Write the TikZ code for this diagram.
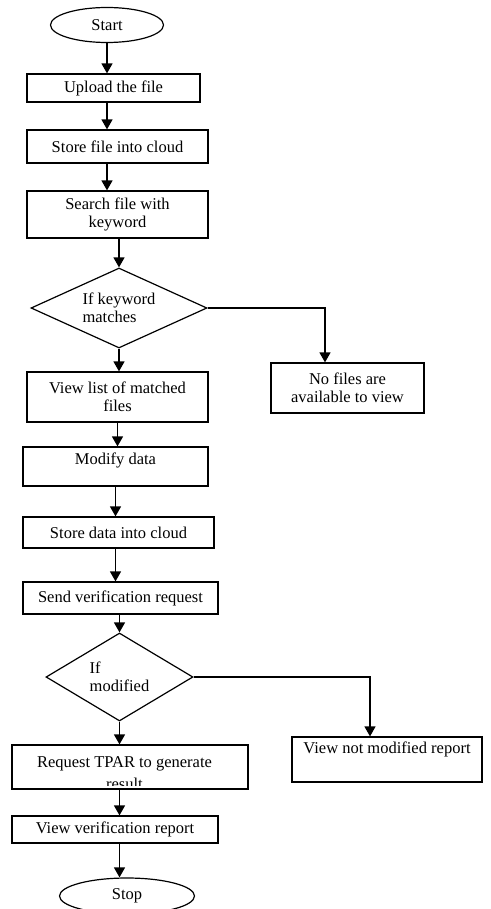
\documentclass[tikz,border=0pt]{standalone}
\usepackage{fontspec}
\setmainfont{Liberation Serif}
\usetikzlibrary{shapes.geometric,arrows.meta,calc}
\begin{document}
\begin{tikzpicture}[x=1pt,y=-1pt,
  every node/.style={font=\fontsize{16.5}{18.5}\selectfont, inner sep=0pt},
  box/.style={draw=black, line width=1.2pt, rectangle, align=center},
  term/.style={draw=black, line width=1.2pt, ellipse},
  decision/.style={draw=black, line width=1.2pt, diamond, align=left},
  arr/.style={line width=1.4pt, -{Triangle[length=10pt,width=11pt]}}]
\fill[white] (0,0) rectangle (490,909);
\useasboundingbox (0,0) rectangle (490,909);
% nodes
\node[term, minimum width=113, minimum height=35] (start) at (107,25) {Start};
\node[box, minimum width=173, minimum height=28] (upload) at (113.5,88) {Upload the file};
\node[box, minimum width=181, minimum height=33] (storefile) at (117.5,146.5) {Store file into cloud};
\node[box, minimum width=181, minimum height=47] (search) at (117.5,214.5) {Search file with\\keyword};
\node[decision, aspect=2.2, minimum width=176, minimum height=80] (dec1) at (119,308) {If keyword\\matches};
\node[box, minimum width=153, minimum height=50] (nofiles) at (347.5,388) {No files are\\available to view};
\node[box, minimum width=181, minimum height=50] (viewlist) at (117.5,397) {View list of matched\\files};
\node[box, minimum width=185, minimum height=39, text height=11.5pt, text depth=15pt] (modify) at (115.5,466.5) {Modify data};
\node[box, minimum width=191, minimum height=31] (storedata) at (118.5,532.5) {Store data into cloud};
\node[box, minimum width=195, minimum height=32] (send) at (120.5,598) {Send verification request};
\node[decision, aspect=1.67, minimum width=147, minimum height=88] (dec2) at (119.5,677) {If\\modified};
\node[box, minimum width=236, minimum height=44] (request) at (130,767) {};
\begin{scope}
  \clip ($(request.south west)+(0,-4)$) rectangle (request.north east);
  \node[anchor=base] (reqtext) at (124.5,767) {Request TPAR to generate};
  \node[anchor=base] (reqtext2) at (124.5,789.5) {result};
\end{scope}
\node[box, minimum width=190, minimum height=45, text height=11.5pt, text depth=23pt] (notmod) at (387,759.5) {View not modified report};
\node[box, minimum width=206, minimum height=27] (viewver) at (115,829.5) {View verification report};
\node[term, minimum width=135, minimum height=36] (stop) at (127,896) {Stop};
% connectors
\draw[arr] (start.south) -- (start.south |- upload.north);
\draw[arr] (upload.south -| start.south) -- (storefile.north -| start.south);
\draw[arr] (storefile.south -| start.south) -- (search.north -| start.south);
\draw[arr] (dec1.north |- search.south) -- (dec1.north);
\draw[arr] (dec1.south) -- (dec1.south |- viewlist.north);
\draw[arr] (dec1.east) -| ([xshift=-22.5pt]nofiles.north);
\draw[arr] (viewlist.south) -- (viewlist.south |- modify.north);
\draw[arr] (modify.south) -- (modify.south |- storedata.north);
\draw[arr] (storedata.south -| modify.south) -- (send.north -| modify.south);
\draw[arr] (dec2.north |- send.south) -- (dec2.north);
\draw[arr] (dec2.south) -- (dec2.south |- request.north);
\draw[arr] (dec2.east) -| ([xshift=-17pt]notmod.north);
\draw[arr] (request.south -| dec2.south) -- (viewver.north -| dec2.south);
\draw[arr] (viewver.south -| dec2.south) -- (stop.north -| dec2.south);
\end{tikzpicture}
\end{document}
